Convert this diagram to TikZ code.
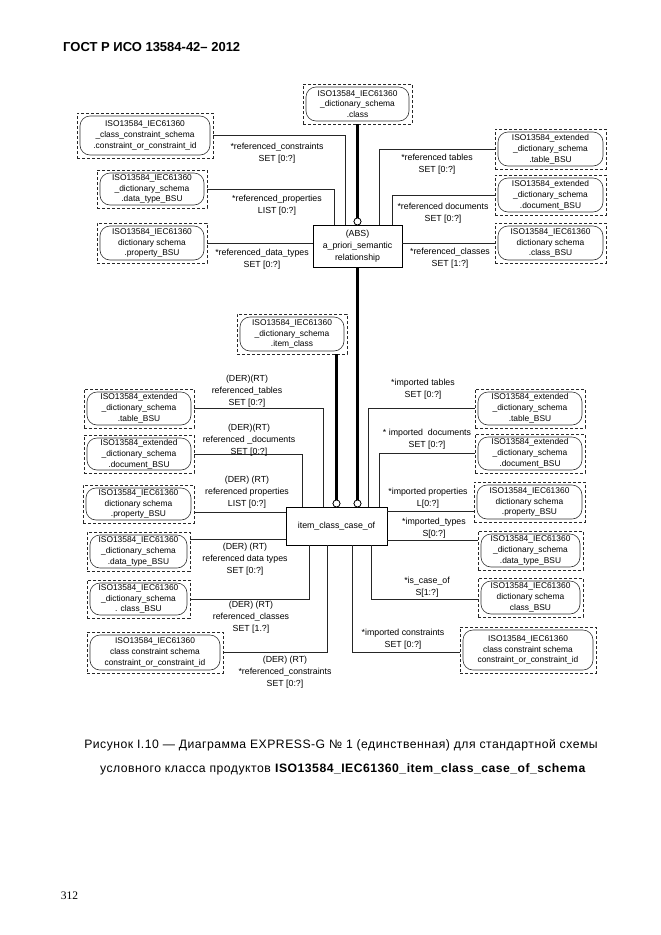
\documentclass[tikz,border=0pt]{standalone}
\usepackage{fontspec}
\setmainfont{Liberation Sans}
\newfontfamily\numfont{Liberation Serif}
\usetikzlibrary{calc}
\newcommand\dfont{\fontsize{8.8}{12}\selectfont}
\newcommand\efont{\fontsize{8.4}{10.8}\selectfont}
\tikzset{
  outerbox/.style={draw=black!85, dash pattern=on 3.2pt off 1.8pt, line width=0.75pt, inner sep=0pt, rectangle},
  innerbox/.style={draw=black!80, line width=0.6pt, rounded corners=10pt, inner sep=0pt, align=center, font=\efont},
  conn/.style={draw=black!85, line width=0.8pt},
  heavy/.style={draw=black, line width=3.2pt},
  lbl/.style={align=center, font=\dfont, inner sep=0pt},
  relbox/.style={draw, line width=0.9pt, align=center, font=\dfont, inner sep=0pt, fill=white},
  ring/.style={circle, draw, fill=white, line width=0.7pt, minimum size=7pt, inner sep=0pt},
  capfont/.style={font=\fontsize{12.2}{14}\selectfont\addfontfeatures{LetterSpace=4}, inner sep=0pt},
}
\newcommand\ent[6]{%
  \node[outerbox, minimum width=#4pt, minimum height=#5pt] (#1) at (#2,#3) {};
  \node[innerbox, minimum width=#4pt-6pt, minimum height=#5pt-6pt] (#1-in) at (#2,#3) {#6};
}
\begin{document}
\begin{tikzpicture}[x=1pt,y=-1pt]
\fill[white] (0,0) rectangle (661,935);
\useasboundingbox (0,0) rectangle (661,935);

% header
\node[anchor=west, font=\bfseries\fontsize{13}{15}\selectfont, inner sep=0pt] (hdr) at (63,47) {ГОСТ Р ИСО 13584-42– 2012};

% ---------- upper part ----------
\ent{E1}{357.5}{104}{109}{40}{ISO13584\_IEC61360\\\_dictionary\_schema\\.class}
\ent{E2}{145}{135.5}{136}{45}{ISO13584\_IEC61360\\\_class\_constraint\_schema\\.constraint\_or\_constraint\_id}
\ent{E3}{152}{189}{110}{38}{ISO13584\_IEC61360\\\_dictionary\_schema\\.data\_type\_BSU}
\ent{E4}{152}{243}{110}{40}{ISO13584\_IEC61360\\dictionary schema\\.property\_BSU}
\ent{E5}{550.5}{149}{111}{40}{ISO13584\_extended\\\_dictionary\_schema\\.table\_BSU}
\ent{E6}{550.5}{195}{111}{40}{ISO13584\_extended\\\_dictionary\_schema\\.document\_BSU}
\ent{E7}{550.5}{243}{111}{40}{ISO13584\_IEC61360\\dictionary schema\\.class\_BSU}

\node[relbox, minimum width=89pt, minimum height=42pt] (ABS) at (357.5,246) {(ABS)\\a\_priori\_semantic\\relationship};

\draw[conn] (E2.east) -| (345,0 |- ABS.north);
\draw[conn] (E3.east) -| (334,0 |- ABS.north);
\draw[conn] (E4.east) -- (E4.east -| ABS.west);
\draw[conn] (E5.west) -| (379,0 |- ABS.north);
\draw[conn] (E6.west) -| (392,0 |- ABS.north);
\draw[conn] (E7.west -| ABS.east) -- (E7.west);

\node[lbl] (t1) at (277,153.5) {*referenced\_constraints\\SET [0:?]};
\node[lbl] (t2) at (277,205) {*referenced\_properties\\LIST [0:?]};
\node[lbl] (t3) at (262,259) {*referenced\_data\_types\\SET [0:?]};
\node[lbl] (t4) at (437,164) {*referenced tables\\SET [0:?]};
\node[lbl] (t5) at (443,213.5) {*referenced documents\\SET [0:?]};
\node[lbl] (t6) at (450,258) {*referenced\_classes\\SET [1:?]};

% ---------- lower part ----------
\ent{E8}{292}{334}{110}{40}{ISO13584\_IEC61360\\\_dictionary\_schema\\.item\_class}
\node[relbox, minimum width=101pt, minimum height=38pt] (item) at (336.5,526) {item\_class\_case\_of};

\ent{L1}{139}{408.5}{110}{39}{ISO13584\_extended\\\_dictionary\_schema\\.table\_BSU}
\ent{L2}{139}{454}{110}{38}{ISO13584\_extended\\\_dictionary\_schema\\.document\_BSU}
\ent{L3}{138.5}{504}{111}{38}{ISO13584\_IEC61360\\dictionary schema\\.property\_BSU}
\ent{L4}{138.5}{551.5}{103}{39}{ISO13584\_IEC61360\\\_dictionary\_schema\\.data\_type\_BSU}
\ent{L5}{138.5}{599}{103}{38}{ISO13584\_IEC61360\\\_dictionary\_schema\\. class\_BSU}
\ent{L6}{155}{652.5}{136}{41}{ISO13584\_IEC61360\\class constraint schema\\constraint\_or\_constraint\_id}

\ent{R1}{530}{408.5}{110}{39}{ISO13584\_extended\\\_dictionary\_schema\\.table\_BSU}
\ent{R2}{530}{453.5}{110}{39}{ISO13584\_extended\\\_dictionary\_schema\\.document\_BSU}
\ent{R3}{529.5}{502}{111}{40}{ISO13584\_IEC61360\\dictionary schema\\.property\_BSU}
\ent{R4}{530.5}{550.5}{105}{39}{ISO13584\_IEC61360\\\_dictionary\_schema\\.data\_type\_BSU}
\ent{R5}{530.5}{597.5}{105}{39}{ISO13584\_IEC61360\\dictionary schema\\class\_BSU}
\ent{R6}{528}{650}{136}{46}{ISO13584\_IEC61360\\class constraint schema\\constraint\_or\_constraint\_id}

\draw[conn] (L1.east) -| (323,0 |- item.north);
\draw[conn] (L2.east) -| (302,0 |- item.north);
\draw[conn] (L3.east |- 0,512) -- (item.west |- 0,512);
\draw[conn] (L4.east |- 0,539) -- (item.west |- 0,539);
\draw[conn] (L5.east) -| (309,0 |- item.south);
\draw[conn] (L6.east) -| (327,0 |- item.south);

\draw[conn] (R1.west) -| (368,0 |- item.north);
\draw[conn] (R2.west) -| (379,0 |- item.north);
\draw[conn] (item.east |- 0,511) -- (R3.west |- 0,511);
\draw[conn] (item.east |- 0,540) -- (R4.west |- 0,540);
\draw[conn] (R5.west |- 0,599) -| (371,0 |- item.south);
\draw[conn] (R6.west |- 0,652) -| (352,0 |- item.south);

\node[lbl] (a1) at (247,391) {(DER)(RT)\\referenced\_tables\\SET [0:?]};
\node[lbl] (a2) at (249,440.5) {(DER)(RT)\\referenced \_documents\\SET [0:?]};
\node[lbl] (a3) at (247,492) {(DER) (RT)\\referenced properties\\LIST [0:?]};
\node[lbl] (a4) at (245,559) {(DER) (RT)\\referenced data types\\SET [0:?]};
\node[lbl] (a5) at (251,617) {(DER) (RT)\\referenced\_classes\\SET [1.?]};
\node[lbl] (a6) at (285,672) {(DER) (RT)\\*referenced\_constraints\\SET [0:?]};

\node[lbl] (b1) at (423,389.5) {*imported tables\\SET [0:?]};
\node[lbl] (b2) at (427,439) {* imported \ documents\\SET [0:?]};
\node[lbl] (b3) at (428,498.5) {*imported properties\\L[0:?]};
\node[lbl] (b4) at (434,528.5) {*imported\_types\\S[0:?]};
\node[lbl] (b5) at (427,587) {*is\_case\_of\\S[1:?]};
\node[lbl] (b6) at (403,639) {*imported constraints\\SET [0:?]};

% heavy links with rings
\node[ring] (r1) at (357.5,221.5) {};
\node[ring] (r2) at (357.5,503.5) {};
\node[ring] (r3) at (336.5,503.5) {};
\draw[heavy] (E1.south) -- (r1.north);
\draw[heavy] (ABS.south) -- (r2.north);
\draw[heavy] (336.5,0 |- E8.south) -- (r3.north);
\node[ring] at (r1) {};
\node[ring] at (r2) {};
\node[ring] at (r3) {};

% caption
\node[capfont] (cap1) at (341,745) {Рисунок I.10 — Диаграмма EXPRESS-G № 1 (единственная) для стандартной схемы};
\node[capfont] (cap2) at (343,769) {условного класса продуктов \textbf{ISO13584\_IEC61360\_item\_class\_case\_of\_schema}};

\node[font=\numfont\fontsize{11.5}{13}\selectfont, inner sep=0pt] (pg) at (69.5,896) {312};
\end{tikzpicture}
\end{document}
